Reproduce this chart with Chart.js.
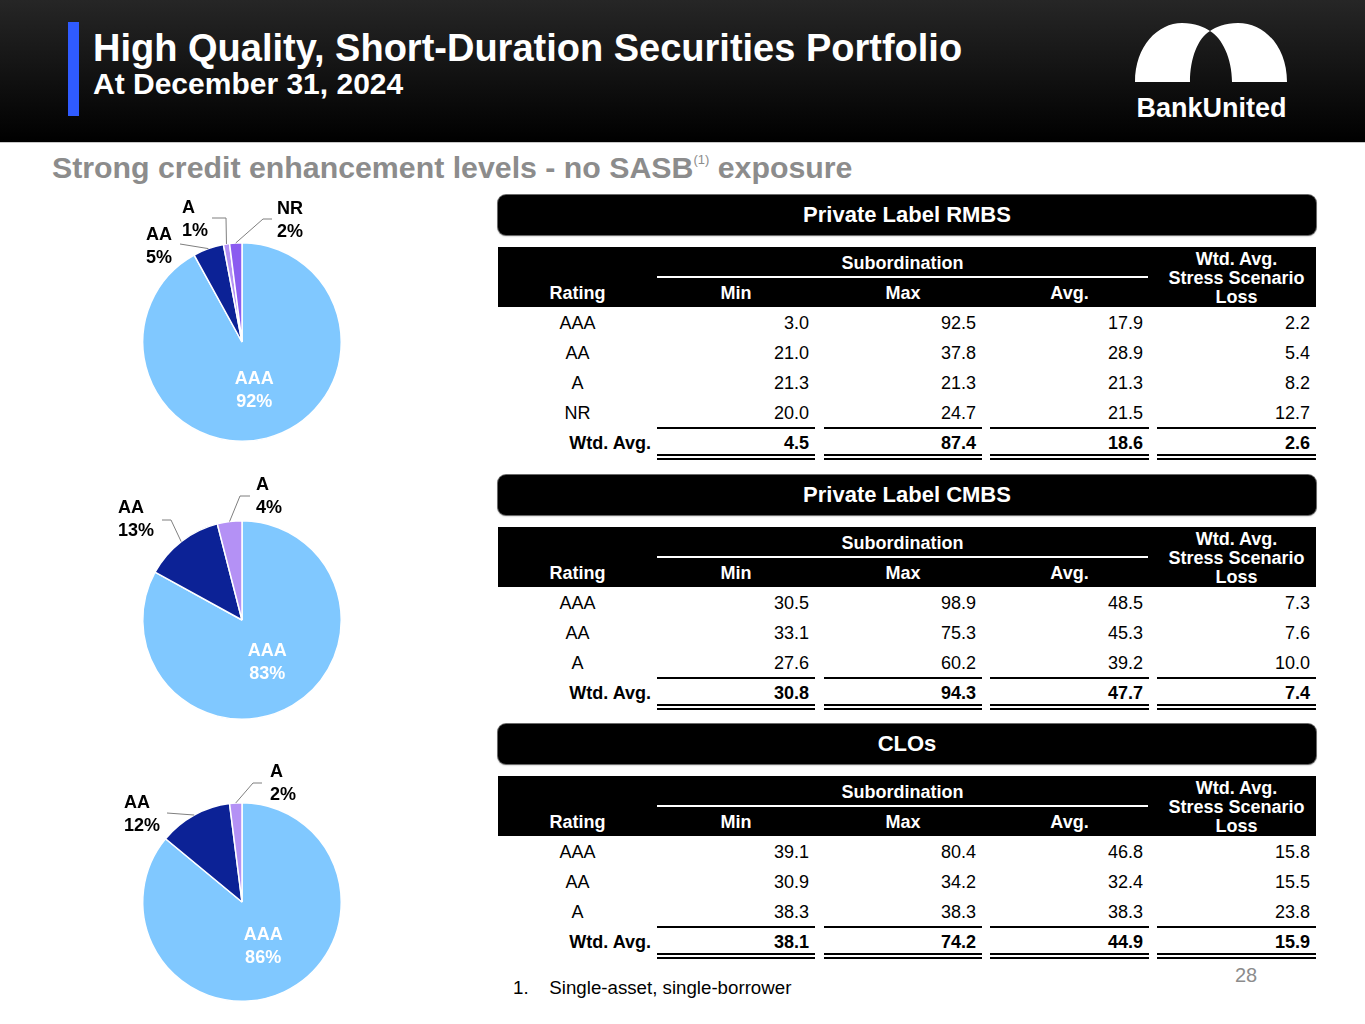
<!DOCTYPE html>
<html>
<head>
<meta charset="utf-8">
<script src="https://cdn.jsdelivr.net/npm/chart.js@4.4.1/dist/chart.umd.min.js"></script>
<style>
body { margin: 0; width: 1365px; height: 1024px; overflow: hidden; background: #fff; position: relative;
       font-family: "Liberation Sans", Arial, sans-serif; }
.abs { position: absolute; white-space: nowrap; }
#hdr { left: 0; top: 0; width: 1365px; height: 142px; background: linear-gradient(#262626, #000); border-bottom: 1px solid #c8c8c8; }
#bar { left: 68px; top: 22px; width: 11px; height: 94px; background: #2f5bff; }
#title { left: 93px; top: 26px; color: #fff; font-weight: bold; font-size: 38px; line-height: 44px; }
#date { left: 93px; top: 67px; color: #fff; font-weight: bold; font-size: 30px; line-height: 34px; }
#brand { left: 1136px; top: 92px; width: 151px; text-align: center; color: #fff; font-weight: bold; font-size: 27px; line-height: 32px; }
#lead { left: 52px; top: 150px; color: #8c8c8c; font-weight: bold; font-size: 30.3px; line-height: 36px; }
#lead sup { font-size: 13px; font-weight: normal; vertical-align: 14px; }
.ttl { background: #000; color: #fff; font-weight: bold; font-size: 22px; text-align: center; border-radius: 8px;
       box-shadow: 0 0 0 1px #6a6a6a, 0 1px 2px #999; }
.hband { background: #000; }
.hd { color: #fff; font-weight: bold; font-size: 18px; text-align: center; }
.cell { font-size: 18px; color: #000; }
.bold { font-weight: bold; }
.rule { background: #000; height: 2px; }
.dbl { height: 6px; border-top: 2px solid #000; border-bottom: 2px solid #000; box-sizing: border-box; }
#foot { left: 513px; top: 977px; font-size: 18.7px; line-height: 22px; color: #000; }
#pg { left: 1226px; top: 964px; width: 40px; text-align: center; font-size: 20px; color: #8c8c8c; }
</style>
</head>
<body>
<div id="hdr" class="abs"></div>
<div id="bar" class="abs"></div>
<div id="title" class="abs">High Quality, Short-Duration Securities Portfolio</div>
<div id="date" class="abs">At December 31, 2024</div>
<svg class="abs" style="left:1130px;top:18px" width="165" height="70" viewBox="1130 18 165 70">
  <path fill="#fff" d="M1135,82 C1135,46 1158,23 1182,23 C1195,23 1204,27 1210,31 C1198,38 1190,58 1190,82 Z"/>
  <path fill="#fff" d="M1210,31 C1216,27 1225,23 1238,23 C1264,23 1287,46 1287,82 L1232,82 C1232,58 1222,38 1210,31 Z"/>
</svg>
<div id="brand" class="abs">BankUnited</div>
<div id="lead" class="abs" style="top:142px">Strong credit enhancement levels - no SASB<sup>(1)</sup> exposure</div>

<canvas id="pieRmbs" class="abs" width="300" height="300" style="left:92px;top:192px"></canvas>
<canvas id="pieCmbs" class="abs" width="300" height="300" style="left:92px;top:470px"></canvas>
<canvas id="pieClo" class="abs" width="300" height="300" style="left:92px;top:752px"></canvas>

<div id="tables"></div>
<div id="foot" class="abs">1.&nbsp;&nbsp;&nbsp; Single-asset, single-borrower</div>
<div id="pg" class="abs">28</div>

<script>
// Pie data: rating mix per portfolio (%)
const rmbsPieLabels = ['AAA', 'AA', 'A', 'NR'];
const rmbsPieShares = [92, 5, 1, 2];
const cmbsPieLabels = ['AAA', 'AA', 'A'];
const cmbsPieShares = [83, 13, 4];
const cloPieLabels = ['AAA', 'AA', 'A'];
const cloPieShares = [86, 12, 2];
const ratingColors = { AAA: '#80c8ff', AA: '#0c2296', A: '#b491f5', NR: '#8b5cf0' };

// Table data
const rmbsRatings = ['AAA', 'AA', 'A', 'NR'];
const rmbsMin = [3.0, 21.0, 21.3, 20.0];
const rmbsMax = [92.5, 37.8, 21.3, 24.7];
const rmbsAvg = [17.9, 28.9, 21.3, 21.5];
const rmbsLoss = [2.2, 5.4, 8.2, 12.7];
const rmbsWtd = [4.5, 87.4, 18.6, 2.6];

const cmbsRatings = ['AAA', 'AA', 'A'];
const cmbsMin = [30.5, 33.1, 27.6];
const cmbsMax = [98.9, 75.3, 60.2];
const cmbsAvg = [48.5, 45.3, 39.2];
const cmbsLoss = [7.3, 7.6, 10.0];
const cmbsWtd = [30.8, 94.3, 47.7, 7.4];

const cloRatings = ['AAA', 'AA', 'A'];
const cloMin = [39.1, 30.9, 38.3];
const cloMax = [80.4, 34.2, 38.3];
const cloAvg = [46.8, 32.4, 38.3];
const cloLoss = [15.8, 15.5, 23.8];
const cloWtd = [38.1, 74.2, 44.9, 15.9];

// Labels for the pies: big slice inside, small ones outside with leader lines
const pieLabels = {
  id: 'pieLabels',
  afterDatasetsDraw(chart, args, opts) {
    const ctx = chart.ctx;
    const meta = chart.getDatasetMeta(0);
    const labels = chart.data.labels;
    const vals = chart.data.datasets[0].data;
    ctx.save();
    ctx.font = 'bold 18px "Liberation Sans", Arial, sans-serif';
    ctx.textBaseline = 'middle';
    meta.data.forEach((arc, i) => {
      const p = arc.getProps(['x', 'y', 'startAngle', 'endAngle', 'outerRadius'], true);
      const mid = (p.startAngle + p.endAngle) / 2;
      const out = (opts.outside || []).find(o => o.i === i);
      if (!out) {
        const rx = p.x + Math.cos(mid) * p.outerRadius * 0.5;
        const ry = p.y + Math.sin(mid) * p.outerRadius * 0.5;
        ctx.fillStyle = '#fff';
        ctx.textAlign = 'center';
        ctx.fillText(labels[i], rx, ry - 11.5);
        ctx.fillText(vals[i] + '%', rx, ry + 11.5);
        return;
      }
      ctx.strokeStyle = '#7f7f7f';
      ctx.lineWidth = 1;
      ctx.beginPath();
      ctx.moveTo(p.x + Math.cos(mid) * p.outerRadius, p.y + Math.sin(mid) * p.outerRadius);
      out.line.forEach(([dx, dy]) => ctx.lineTo(p.x + dx, p.y + dy));
      ctx.stroke();
      ctx.fillStyle = '#000';
      ctx.textAlign = 'left';
      ctx.fillText(labels[i], p.x + out.dx, p.y + out.dy);
      ctx.fillText(vals[i] + '%', p.x + out.dx, p.y + out.dy + 23);
    });
    ctx.restore();
  }
};

function makePie(id, labels, shares, outside) {
  new Chart(document.getElementById(id), {
    type: 'pie',
    data: {
      labels: labels,
      datasets: [{
        data: shares,
        backgroundColor: labels.map(l => ratingColors[l]),
        borderColor: '#fff',
        borderWidth: 1.5
      }]
    },
    options: {
      responsive: false,
      animation: false,
      layout: { padding: 50 },
      plugins: { legend: { display: false }, tooltip: { enabled: false }, pieLabels: { outside: outside } }
    },
    plugins: [pieLabels]
  });
}

makePie('pieRmbs', rmbsPieLabels, rmbsPieShares, [
  { i: 1, dx: -96, dy: -107, line: [[-62, -98]] },
  { i: 2, dx: -60, dy: -134, line: [[-16, -124], [-30, -124]] },
  { i: 3, dx: 35, dy: -133, line: [[21, -123], [30, -123]] }
]);
makePie('pieCmbs', cmbsPieLabels, cmbsPieShares, [
  { i: 1, dx: -124, dy: -112, line: [[-71, -100], [-80, -100]] },
  { i: 2, dx: 14, dy: -135, line: [[-2, -124], [8, -124]] }
]);
makePie('pieClo', cloPieLabels, cloPieShares, [
  { i: 1, dx: -118, dy: -99, line: [[-75, -89]] },
  { i: 2, dx: 28, dy: -130, line: [[11, -119], [20, -119]] }
]);

// Tables
const numCols = [[657, 815], [824, 982], [990, 1149], [1157, 1316]];
const root = document.getElementById('tables');
function add(cls, css, text) {
  const d = document.createElement('div');
  d.className = 'abs ' + cls;
  for (const k in css) d.style[k] = typeof css[k] === 'number' ? css[k] + 'px' : css[k];
  if (text !== undefined) d.textContent = text;
  root.appendChild(d);
  return d;
}
function buildTable(hTop, title, ratings, cols, wtd) {
  add('ttl', { left: 498, top: hTop - 52, width: 818, height: 40, lineHeight: '40px' }, title);
  add('hband', { left: 498, top: hTop, width: 818, height: 60 });
  add('hd', { left: 657, top: hTop + 5, width: 491, lineHeight: '22px' }, 'Subordination');
  add('', { left: 657, top: hTop + 29, width: 491, height: 2, background: '#fff' });
  add('hd', { left: 498, top: hTop + 35, width: 159, lineHeight: '22px' }, 'Rating');
  ['Min', 'Max', 'Avg.'].forEach((t, k) =>
    add('hd', { left: numCols[k][0], top: hTop + 35, width: numCols[k][1] - numCols[k][0], lineHeight: '22px' }, t));
  const loss = add('hd', { left: 1157, top: hTop + 3, width: 159, lineHeight: '19px' });
  loss.innerHTML = 'Wtd. Avg.<br>Stress Scenario<br>Loss';

  const rowY = i => hTop + 76 + 30 * i;
  ratings.forEach((r, i) => {
    add('cell', { left: 498, top: rowY(i) - 11, width: 159, lineHeight: '22px', textAlign: 'center' }, r);
    cols.forEach((col, k) =>
      add('cell', { left: numCols[k][0], top: rowY(i) - 11, width: numCols[k][1] - numCols[k][0] - 6, lineHeight: '22px', textAlign: 'right' }, col[i].toFixed(1)));
  });
  const n = ratings.length;
  add('cell bold', { left: 498, top: rowY(n) - 11, width: 153, lineHeight: '22px', textAlign: 'right' }, 'Wtd. Avg.');
  wtd.forEach((v, k) => {
    const w = numCols[k][1] - numCols[k][0];
    add('cell bold', { left: numCols[k][0], top: rowY(n) - 11, width: w - 6, lineHeight: '22px', textAlign: 'right' }, v.toFixed(1));
    add('rule', { left: numCols[k][0], top: rowY(n - 1) + 14, width: w });
    add('dbl', { left: numCols[k][0], top: rowY(n) + 11, width: w });
  });
}
buildTable(247, 'Private Label RMBS', rmbsRatings, [rmbsMin, rmbsMax, rmbsAvg, rmbsLoss], rmbsWtd);
buildTable(527, 'Private Label CMBS', cmbsRatings, [cmbsMin, cmbsMax, cmbsAvg, cmbsLoss], cmbsWtd);
buildTable(776, 'CLOs', cloRatings, [cloMin, cloMax, cloAvg, cloLoss], cloWtd);
</script>
</body>
</html>
